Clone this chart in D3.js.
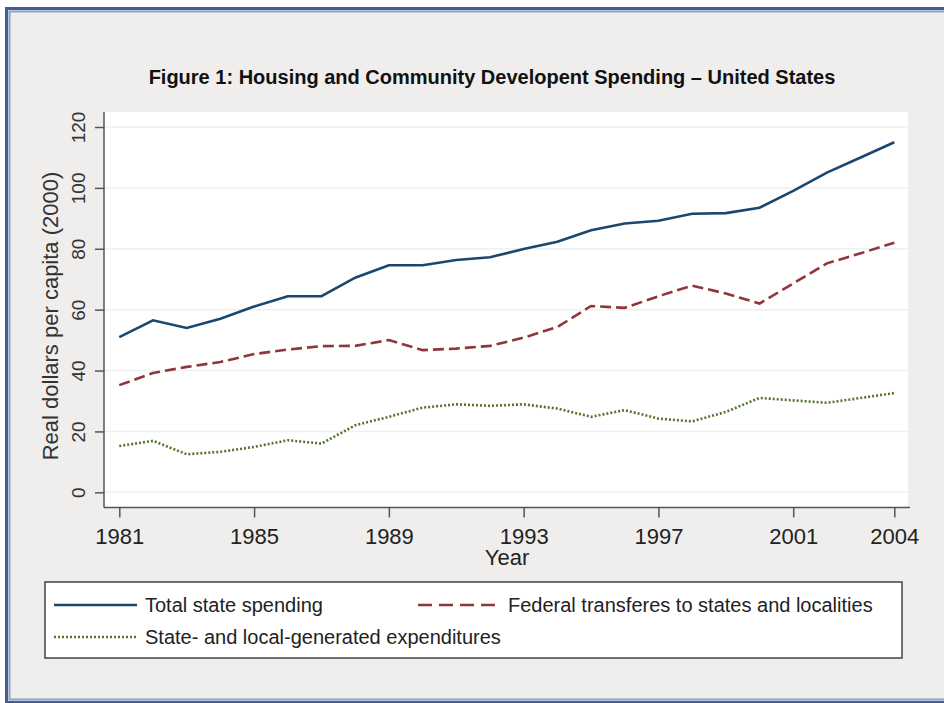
<!DOCTYPE html>
<html>
<head>
<meta charset="utf-8">
<script src="https://cdn.jsdelivr.net/npm/d3@7"></script>
<style>
  body { margin: 0; background: #fff; }
  svg { display: block; font-family: "Liberation Sans", Arial, sans-serif; }
</style>
</head>
<body>
<div id="graph"></div>
<script>
// data
const years = d3.range(1981, 2005);
const totalSpending = [51, 56.5, 54, 57, 61, 64.4, 64.4, 70.5, 74.6, 74.6, 76.3, 77.2, 79.9, 82.3, 86.1, 88.3, 89.2, 91.5, 91.7, 93.5, 99, 105, 110, 115];
const federalTransfers = [35.2, 39.2, 41.2, 42.8, 45.4, 46.9, 48, 48.1, 50, 46.7, 47.2, 48.1, 50.8, 54.3, 61.2, 60.6, 64.4, 67.9, 65.3, 62, 68.6, 75.2, 78.5, 82];
const stateLocal = [15.2, 16.9, 12.5, 13.3, 14.9, 17.1, 16, 22, 24.8, 27.8, 28.9, 28.4, 28.9, 27.5, 24.8, 27, 24.2, 23.3, 26.4, 31, 30.2, 29.4, 31, 32.6];
const xTicks = [1981, 1985, 1989, 1993, 1997, 2001, 2004];
const yTicks = [0, 20, 40, 60, 80, 100, 120];
const seriesNames = ["Total state spending", "Federal transferes to states and localities", "State- and local-generated expenditures"];

const W = 944, H = 703;
const colors = ["#1a476f", "#90353b", "#55752f"];
const dashes = [null, "11,5", "2,2"];

const svg = d3.select("#graph").append("svg")
    .attr("width", W)
    .attr("height", H);

// outer frame
svg.append("rect")
    .attr("x", 6.5).attr("y", 8.5)
    .attr("width", W + 20).attr("height", 694)
    .attr("fill", "#efeeec")
    .attr("stroke", "#3f5f95")
    .attr("stroke-width", 3);
svg.append("rect")
    .attr("x", 9.5).attr("y", 11.5)
    .attr("width", W + 20).attr("height", 688)
    .attr("fill", "none")
    .attr("stroke", "#8ea2c6")
    .attr("stroke-width", 2);

// title
svg.append("text")
    .attr("x", 492).attr("y", 84)
    .attr("text-anchor", "middle")
    .attr("font-size", 20)
    .attr("font-weight", "bold")
    .attr("fill", "#111")
    .text("Figure 1: Housing and Community Developent Spending \u2013 United States");

const x = d3.scaleLinear().domain([1981, 2004]).range([119.3, 894.3]);
const y = d3.scaleLinear().domain([0, 120]).range([492.3, 127]);

const plotL = 104, plotR = 908, plotT = 112, plotB = 507.5;

// plot region
svg.append("rect")
    .attr("x", plotL).attr("y", plotT)
    .attr("width", plotR - plotL).attr("height", plotB - plotT)
    .attr("fill", "#fff");

// grid
svg.append("g")
  .selectAll("line")
  .data(yTicks)
  .join("line")
    .attr("x1", plotL + 1).attr("x2", plotR)
    .attr("y1", d => y(d)).attr("y2", d => y(d))
    .attr("stroke", "#eaf2f3")
    .attr("stroke-width", 1.5);

// y axis
const yAxis = svg.append("g")
    .attr("transform", `translate(${plotL},0)`)
    .call(d3.axisLeft(y).tickValues(yTicks).tickSize(9).tickSizeOuter(0));
yAxis.select(".domain").remove();
yAxis.selectAll(".tick line").attr("stroke", "#555").attr("stroke-width", 1.5);
yAxis.selectAll(".tick text")
    .attr("transform", "rotate(-90)")
    .attr("x", 0).attr("y", -19).attr("dy", null)
    .attr("text-anchor", "middle")
    .attr("font-size", 19)
    .attr("font-family", null)
    .attr("fill", "#333");
svg.append("line")
    .attr("x1", plotL).attr("x2", plotL)
    .attr("y1", plotT).attr("y2", plotB)
    .attr("stroke", "#555").attr("stroke-width", 1.5);

// x axis
const xAxis = svg.append("g")
    .attr("transform", `translate(0,${plotB})`)
    .call(d3.axisBottom(x).tickValues(xTicks).tickFormat(d3.format("d")).tickSize(10).tickSizeOuter(0));
xAxis.select(".domain").remove();
xAxis.selectAll(".tick line").attr("stroke", "#555").attr("stroke-width", 1.5);
xAxis.selectAll(".tick text")
    .attr("y", 36).attr("dy", null)
    .attr("font-size", 22)
    .attr("font-family", null)
    .attr("fill", "#222");
svg.append("line")
    .attr("x1", plotL).attr("x2", 910)
    .attr("y1", plotB).attr("y2", plotB)
    .attr("stroke", "#555").attr("stroke-width", 1.5);

// axis titles
svg.append("text")
    .attr("transform", "translate(58,316) rotate(-90)")
    .attr("text-anchor", "middle")
    .attr("font-size", 22)
    .attr("fill", "#333")
    .text("Real dollars per capita (2000)");
svg.append("text")
    .attr("x", 507).attr("y", 565)
    .attr("text-anchor", "middle")
    .attr("font-size", 22)
    .attr("fill", "#222")
    .text("Year");

// lines
const line = d3.line().x((d, i) => x(years[i])).y(d => y(d));
[totalSpending, federalTransfers, stateLocal].forEach((s, i) => {
  svg.append("path")
      .datum(s)
      .attr("d", line)
      .attr("fill", "none")
      .attr("stroke", colors[i])
      .attr("stroke-width", 2.6)
      .attr("stroke-dasharray", dashes[i]);
});

// legend
svg.append("rect")
    .attr("x", 45).attr("y", 582)
    .attr("width", 857).attr("height", 76)
    .attr("fill", "#fff")
    .attr("stroke", "#444")
    .attr("stroke-width", 1.5);

const legendPos = [[54, 605], [418, 605], [54, 637]];
const legendDash = [null, "14,7", "2,2"];
seriesNames.forEach((name, i) => {
  const [lx, ly] = legendPos[i];
  svg.append("line")
      .attr("x1", lx).attr("x2", lx + 83)
      .attr("y1", ly).attr("y2", ly)
      .attr("stroke", colors[i])
      .attr("stroke-width", 2.6)
      .attr("stroke-dasharray", legendDash[i]);
  svg.append("text")
      .attr("x", lx + (i === 1 ? 90 : 91)).attr("y", ly + 7)
      .attr("font-size", 20)
      .attr("fill", "#222")
      .text(name);
});
</script>
</body>
</html>
